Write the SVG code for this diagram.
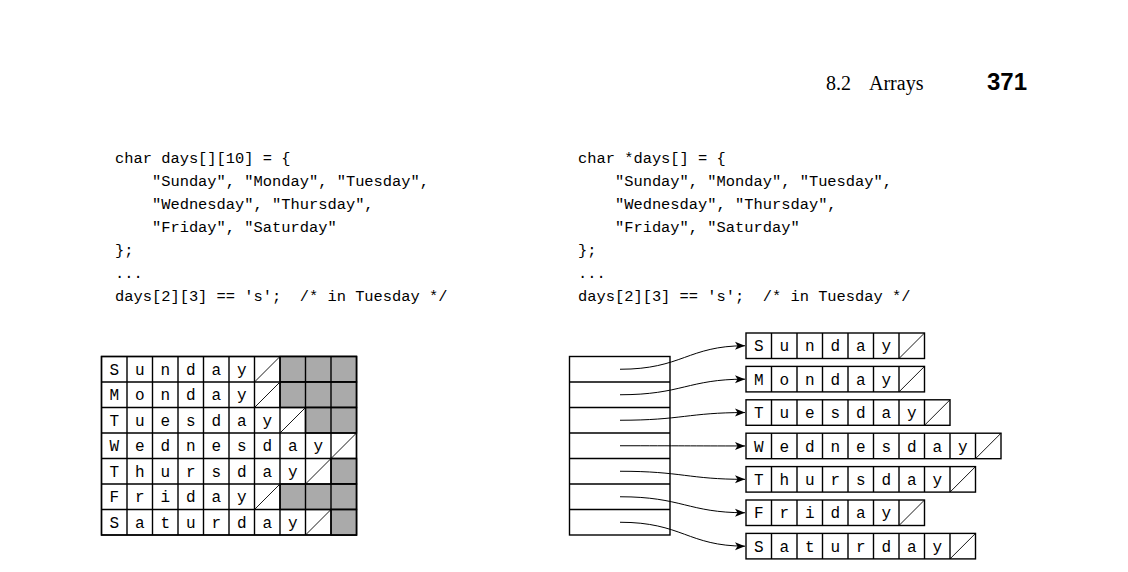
<svg xmlns="http://www.w3.org/2000/svg" width="1128" height="572" viewBox="0 0 1128 572">
<style>
.code{font-family:"Liberation Mono",monospace;font-size:15.4px;fill:#000;white-space:pre}
.ch{font-family:"Liberation Mono",monospace;font-size:16px;fill:#000;text-anchor:middle}
.cell{fill:#fff;stroke:#000;stroke-width:1.4}
.gray{fill:#aaa;stroke:#000;stroke-width:1.4}
.diag{stroke:#000;stroke-width:0.9;fill:none}
.con{fill:none;stroke:#000;stroke-width:1}
.hdr{font-family:"Liberation Serif",serif;font-size:20px;fill:#000}
.pg{font-family:"Liberation Sans",sans-serif;font-size:24px;font-weight:bold;fill:#000}
</style>
<defs>
<marker id="ah" markerUnits="userSpaceOnUse" markerWidth="12" markerHeight="10" refX="10" refY="5" orient="auto">
<path d="M0,1 L10,5 L0,9 L2.5,5 Z" fill="#000"/>
</marker>
</defs>
<rect width="1128" height="572" fill="#fff"/>
<g id="header">
<text class="hdr" x="826" y="90">8.2</text>
<text class="hdr" x="869" y="90">Arrays</text>
<text class="pg" x="987" y="90">371</text>
</g>
<g id="code-left">
<text class="code" x="115" y="163.3">char days[][10] = {</text>
<text class="code" x="115" y="186.2">    "Sunday", "Monday", "Tuesday",</text>
<text class="code" x="115" y="209.1">    "Wednesday", "Thursday",</text>
<text class="code" x="115" y="232">    "Friday", "Saturday"</text>
<text class="code" x="115" y="254.9">};</text>
<text class="code" x="115" y="277.8">...</text>
<text class="code" x="115" y="300.7">days[2][3] == 's';  /* in Tuesday */</text>
</g>
<g id="code-right">
<text class="code" x="578" y="163.3">char *days[] = {</text>
<text class="code" x="578" y="186.2">    "Sunday", "Monday", "Tuesday",</text>
<text class="code" x="578" y="209.1">    "Wednesday", "Thursday",</text>
<text class="code" x="578" y="232">    "Friday", "Saturday"</text>
<text class="code" x="578" y="254.9">};</text>
<text class="code" x="578" y="277.8">...</text>
<text class="code" x="578" y="300.7">days[2][3] == 's';  /* in Tuesday */</text>
</g>
<g id="grid">
<g id="grid-cells">
<rect class="cell" x="101.5" y="356.5" width="255" height="178.5"/>
<rect class="gray" x="280" y="356.5" width="76.5" height="25.5"/>
<rect class="gray" x="280" y="382" width="76.5" height="25.5"/>
<rect class="gray" x="305.5" y="407.5" width="51" height="25.5"/>
<rect class="gray" x="331" y="458.5" width="25.5" height="25.5"/>
<rect class="gray" x="280" y="484" width="76.5" height="25.5"/>
<rect class="gray" x="331" y="509.5" width="25.5" height="25.5"/>
<path class="cell" style="fill:none" d="M127,356.5V535M152.5,356.5V535M178,356.5V535M203.5,356.5V535M229,356.5V535M254.5,356.5V535M280,356.5V535M305.5,356.5V535M331,356.5V535M101.5,382H356.5M101.5,407.5H356.5M101.5,433H356.5M101.5,458.5H356.5M101.5,484H356.5M101.5,509.5H356.5"/>
<rect x="101.5" y="356.5" width="255" height="178.5" fill="none" stroke="#000" stroke-width="1.4"/>
<path class="diag" d="M254.5,382L280,356.5M254.5,407.5L280,382M280,433L305.5,407.5M331,458.5L356.5,433M305.5,484L331,458.5M254.5,509.5L280,484M305.5,535L331,509.5"/>
</g>
<g id="grid-letters">
<text class="ch" x="114.25 139.75 165.25 190.75 216.25 241.75" y="374.8">Sunday</text>
<text class="ch" x="114.25 139.75 165.25 190.75 216.25 241.75" y="400.3">Monday</text>
<text class="ch" x="114.25 139.75 165.25 190.75 216.25 241.75 267.25" y="425.8">Tuesday</text>
<text class="ch" x="114.25 139.75 165.25 190.75 216.25 241.75 267.25 292.75 318.25" y="451.3">Wednesday</text>
<text class="ch" x="114.25 139.75 165.25 190.75 216.25 241.75 267.25 292.75" y="476.8">Thursday</text>
<text class="ch" x="114.25 139.75 165.25 190.75 216.25 241.75" y="502.3">Friday</text>
<text class="ch" x="114.25 139.75 165.25 190.75 216.25 241.75 267.25 292.75" y="527.8">Saturday</text>
</g>
</g>
<g id="pointers">
<rect class="cell" x="569.5" y="356.5" width="100.5" height="178.5"/>
<path class="cell" style="fill:none" d="M569.5,382H670M569.5,407.5H670M569.5,433H670M569.5,458.5H670M569.5,484H670M569.5,509.5H670"/>
</g>
<g id="str-sunday">
<rect class="cell" x="746" y="333" width="178.5" height="25.5"/>
<path class="cell" style="fill:none" d="M771.5,333v25.5M797,333v25.5M822.5,333v25.5M848,333v25.5M873.5,333v25.5M899,333v25.5"/>
<path class="diag" d="M899,358.5L924.5,333"/>
<text class="ch" x="758.75 784.25 809.75 835.25 860.75 886.25" y="351.3">Sunday</text>
</g>
<g id="str-monday">
<rect class="cell" x="746" y="366.4" width="178.5" height="25.5"/>
<path class="cell" style="fill:none" d="M771.5,366.4v25.5M797,366.4v25.5M822.5,366.4v25.5M848,366.4v25.5M873.5,366.4v25.5M899,366.4v25.5"/>
<path class="diag" d="M899,391.9L924.5,366.4"/>
<text class="ch" x="758.75 784.25 809.75 835.25 860.75 886.25" y="384.7">Monday</text>
</g>
<g id="str-tuesday">
<rect class="cell" x="746" y="399.8" width="204" height="25.5"/>
<path class="cell" style="fill:none" d="M771.5,399.8v25.5M797,399.8v25.5M822.5,399.8v25.5M848,399.8v25.5M873.5,399.8v25.5M899,399.8v25.5M924.5,399.8v25.5"/>
<path class="diag" d="M924.5,425.3L950,399.8"/>
<text class="ch" x="758.75 784.25 809.75 835.25 860.75 886.25 911.75" y="418.1">Tuesday</text>
</g>
<g id="str-wednesday">
<rect class="cell" x="746" y="433.2" width="255" height="25.5"/>
<path class="cell" style="fill:none" d="M771.5,433.2v25.5M797,433.2v25.5M822.5,433.2v25.5M848,433.2v25.5M873.5,433.2v25.5M899,433.2v25.5M924.5,433.2v25.5M950,433.2v25.5M975.5,433.2v25.5"/>
<path class="diag" d="M975.5,458.7L1001,433.2"/>
<text class="ch" x="758.75 784.25 809.75 835.25 860.75 886.25 911.75 937.25 962.75" y="451.5">Wednesday</text>
</g>
<g id="str-thursday">
<rect class="cell" x="746" y="466.6" width="229.5" height="25.5"/>
<path class="cell" style="fill:none" d="M771.5,466.6v25.5M797,466.6v25.5M822.5,466.6v25.5M848,466.6v25.5M873.5,466.6v25.5M899,466.6v25.5M924.5,466.6v25.5M950,466.6v25.5"/>
<path class="diag" d="M950,492.1L975.5,466.6"/>
<text class="ch" x="758.75 784.25 809.75 835.25 860.75 886.25 911.75 937.25" y="484.9">Thursday</text>
</g>
<g id="str-friday">
<rect class="cell" x="746" y="500" width="178.5" height="25.5"/>
<path class="cell" style="fill:none" d="M771.5,500v25.5M797,500v25.5M822.5,500v25.5M848,500v25.5M873.5,500v25.5M899,500v25.5"/>
<path class="diag" d="M899,525.5L924.5,500"/>
<text class="ch" x="758.75 784.25 809.75 835.25 860.75 886.25" y="518.3">Friday</text>
</g>
<g id="str-saturday">
<rect class="cell" x="746" y="533.4" width="229.5" height="25.5"/>
<path class="cell" style="fill:none" d="M771.5,533.4v25.5M797,533.4v25.5M822.5,533.4v25.5M848,533.4v25.5M873.5,533.4v25.5M899,533.4v25.5M924.5,533.4v25.5M950,533.4v25.5"/>
<path class="diag" d="M950,558.9L975.5,533.4"/>
<text class="ch" x="758.75 784.25 809.75 835.25 860.75 886.25 911.75 937.25" y="551.7">Saturday</text>
</g>
<g id="connectors">
<path class="con" marker-end="url(#ah)" d="M620,369.25C682,369.25 688,345.75 745,345.75"/>
<path class="con" marker-end="url(#ah)" d="M620,394.75C682,394.75 688,379.15 745,379.15"/>
<path class="con" marker-end="url(#ah)" d="M620,420.25C682,420.25 688,412.55 745,412.55"/>
<path class="con" marker-end="url(#ah)" d="M620,445.75C682,445.75 688,445.95 745,445.95"/>
<path class="con" marker-end="url(#ah)" d="M620,471.25C682,471.25 688,479.35 745,479.35"/>
<path class="con" marker-end="url(#ah)" d="M620,496.75C682,496.75 688,512.75 745,512.75"/>
<path class="con" marker-end="url(#ah)" d="M620,522.25C682,522.25 688,546.15 745,546.15"/>
</g>
</svg>
